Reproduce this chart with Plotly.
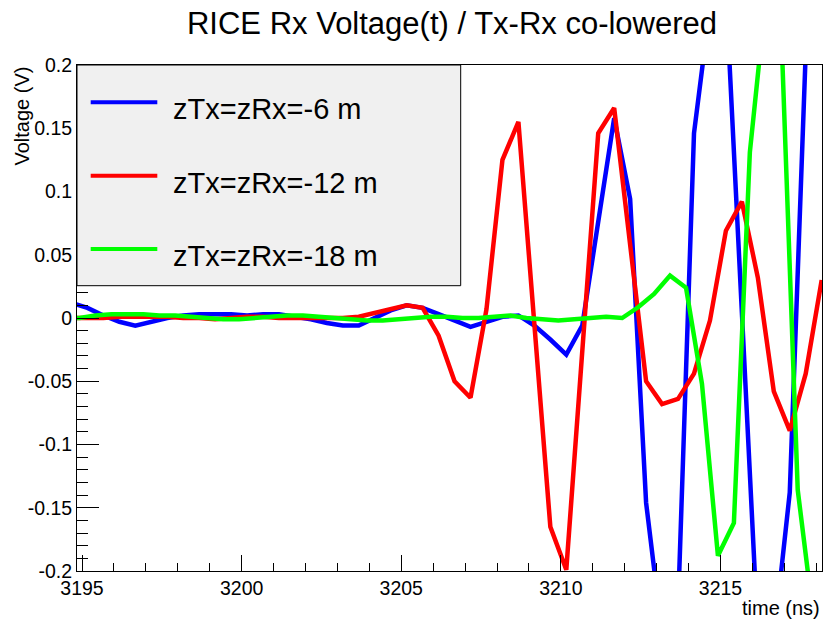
import plotly.graph_objects as go

# ---------------- data ----------------
time_rb = [3194.67, 3195.17, 3195.67, 3196.17, 3196.67, 3197.17, 3197.67, 3198.17,
           3198.67, 3199.17, 3199.67, 3200.17, 3200.67, 3201.17, 3201.67, 3202.17,
           3202.67, 3203.17, 3203.67, 3204.17, 3204.67, 3205.17, 3205.67, 3206.17,
           3206.67, 3207.17, 3207.67, 3208.17, 3208.67, 3209.17, 3209.67, 3210.17,
           3210.67, 3211.17, 3211.67, 3212.17, 3212.67, 3213.17, 3213.67, 3214.17,
           3214.67, 3215.17, 3215.67, 3216.17, 3216.67, 3217.17, 3217.67, 3218.17]

v_blue = [0.012, 0.008, 0.002, -0.003, -0.006, -0.003, 0.000, 0.002,
          0.003, 0.003, 0.003, 0.002, 0.003, 0.003, 0.001, -0.001,
          -0.004, -0.006, -0.006, 0.000, 0.006, 0.010, 0.008, 0.003,
          -0.002, -0.007, -0.003, 0.001, 0.002, -0.006, -0.017, -0.029,
          -0.006, 0.076, 0.158, 0.094, -0.146, -0.250, -0.230, 0.146,
          0.246, 0.259, 0.005, -0.250, -0.254, -0.138, 0.210, 0.300]

v_red = [0.000, 0.000, 0.000, 0.001, 0.001, 0.001, 0.001, 0.000,
         0.000, -0.001, 0.000, 0.001, 0.001, 0.000, 0.000, 0.000,
         0.000, 0.000, 0.001, 0.004, 0.007, 0.010, 0.008, -0.014,
         -0.050, -0.063, 0.007, 0.125, 0.155, -0.005, -0.165, -0.199,
         -0.025, 0.146, 0.166, 0.058, -0.050, -0.068, -0.064, -0.044,
         -0.002, 0.069, 0.092, 0.032, -0.058, -0.089, -0.044, 0.030]

time_g = [3194.42, 3194.92, 3195.42, 3195.92, 3196.42, 3196.92, 3197.42, 3197.92,
          3198.42, 3198.92, 3199.42, 3199.92, 3200.42, 3200.92, 3201.42, 3201.92,
          3202.42, 3202.92, 3203.42, 3203.92, 3204.42, 3204.92, 3205.42, 3205.92,
          3206.42, 3206.92, 3207.42, 3207.92, 3208.42, 3208.92, 3209.42, 3209.92,
          3210.42, 3210.92, 3211.42, 3211.92, 3212.42, 3212.92, 3213.42, 3213.92,
          3214.42, 3214.92, 3215.42, 3215.92, 3216.42, 3216.92, 3217.42, 3217.92,
          3218.42]

v_green = [0.000, 0.000, 0.002, 0.003, 0.003, 0.003, 0.002, 0.002,
           0.001, 0.000, -0.001, -0.001, 0.000, 0.001, 0.002, 0.002,
           0.001, 0.000, -0.001, -0.002, -0.002, -0.001, 0.000, 0.001,
           0.001, 0.000, 0.000, 0.001, 0.002, 0.000, -0.001, -0.002,
           -0.001, 0.000, 0.001, 0.000, 0.0085, 0.019, 0.0335, 0.024,
           -0.052, -0.188, -0.162, 0.131, 0.253, 0.216, -0.136, -0.238,
           -0.250]

series_names = ["zTx=zRx=-6 m", "zTx=zRx=-12 m", "zTx=zRx=-18 m"]
series_colors = ["#0000ff", "#ff0000", "#00ff00"]

x_ticks = [3195, 3200, 3205, 3210, 3215]
y_ticks = [-0.2, -0.15, -0.1, -0.05, 0, 0.05, 0.1, 0.15, 0.2]
y_tick_text = ["-0.2", "-0.15", "-0.1", "-0.05", "0", "0.05", "0.1", "0.15", "0.2"]

title_text = "RICE Rx Voltage(t) / Tx-Rx co-lowered"
x_title = "time (ns)"
y_title = "Voltage (V)"

# ---------------- geometry ----------------
W, H = 824, 620
L, R, T, B = 77, 2, 65, 49
PW, PH = W - L - R, H - T - B
FONT = "Liberation Sans, Arial, Helvetica, sans-serif"


def px2x(px):
    return (px - L) / PW


def py2y(py):
    return (H - B - py) / PH


fig = go.Figure()
for tx, vy, name, col in zip([time_rb, time_rb, time_g],
                             [v_blue, v_red, v_green],
                             series_names, series_colors):
    fig.add_trace(go.Scatter(x=tx, y=vy, mode="lines", name=name,
                             line=dict(color=col, width=4.5),
                             showlegend=False))

x_minor = [3195 + i for i in range(24)]
y_minor = [round(-0.2 + 0.01 * i, 2) for i in range(41)]

axis_common = dict(showline=True, linecolor="black", linewidth=1, mirror=True,
                   showgrid=False, zeroline=False, ticks="inside",
                   tickcolor="black", tickwidth=1,
                   tickfont=dict(family=FONT, size=19.5, color="black"))

fig.update_layout(
    width=W, height=H,
    margin=dict(l=L, r=R, t=T, b=B, pad=0),
    paper_bgcolor="white", plot_bgcolor="white",
    title=dict(text=title_text, x=px2x(452), xref="paper", xanchor="center",
               y=1 - 23 / H, yref="container", yanchor="middle",
               font=dict(family=FONT, size=31, color="black")),
    xaxis=dict(range=[3194.843, 3218.18], tickmode="array", tickvals=x_ticks,
               ticktext=[str(v) for v in x_ticks], ticklen=16,
               minor=dict(tickmode="array", tickvals=x_minor, ticks="inside",
                          ticklen=8, tickcolor="black", showgrid=False),
               **axis_common),
    yaxis=dict(range=[-0.2, 0.2], tickmode="array", tickvals=y_ticks,
               ticktext=y_tick_text, ticklen=22,
               minor=dict(tickmode="array", tickvals=y_minor, ticks="inside",
                          ticklen=11, tickcolor="black", showgrid=False),
               **axis_common),
    showlegend=False,
)

# axis titles (ROOT style: at the ends of the axes)
fig.add_annotation(text=x_title, xref="paper", yref="paper",
                   x=px2x(822), y=py2y(608), xanchor="right", yanchor="middle",
                   showarrow=False, font=dict(family=FONT, size=20, color="black"))
fig.add_annotation(text=y_title, xref="paper", yref="paper", textangle=-90,
                   x=px2x(21), y=py2y(65), xanchor="center", yanchor="top",
                   showarrow=False, font=dict(family=FONT, size=20, color="black"))

# legend box (ROOT TLegend look)
fig.add_shape(type="rect", xref="paper", yref="paper",
              x0=px2x(77), x1=px2x(460.7), y0=py2y(285.7), y1=py2y(65),
              fillcolor="#f0f0f0", line=dict(color="black", width=1), layer="above")
row_line_y = [102.3, 175.7, 249.0]
row_text_y = [109, 183, 256]
for name, col, ly, ty in zip(series_names, series_colors, row_line_y, row_text_y):
    fig.add_shape(type="line", xref="paper", yref="paper",
                  x0=px2x(90.7), x1=px2x(157.3), y0=py2y(ly), y1=py2y(ly),
                  line=dict(color=col, width=4), layer="above")
    fig.add_annotation(text=name, xref="paper", yref="paper",
                       x=px2x(171), y=py2y(ty), xanchor="left", yanchor="middle",
                       showarrow=False,
                       font=dict(family=FONT, size=29, color="black"))

fig.write_html("out.html",
               config={"displayModeBar": False},
               post_script="document.body.style.margin='0';"
                           "document.documentElement.style.overflow='hidden';")
